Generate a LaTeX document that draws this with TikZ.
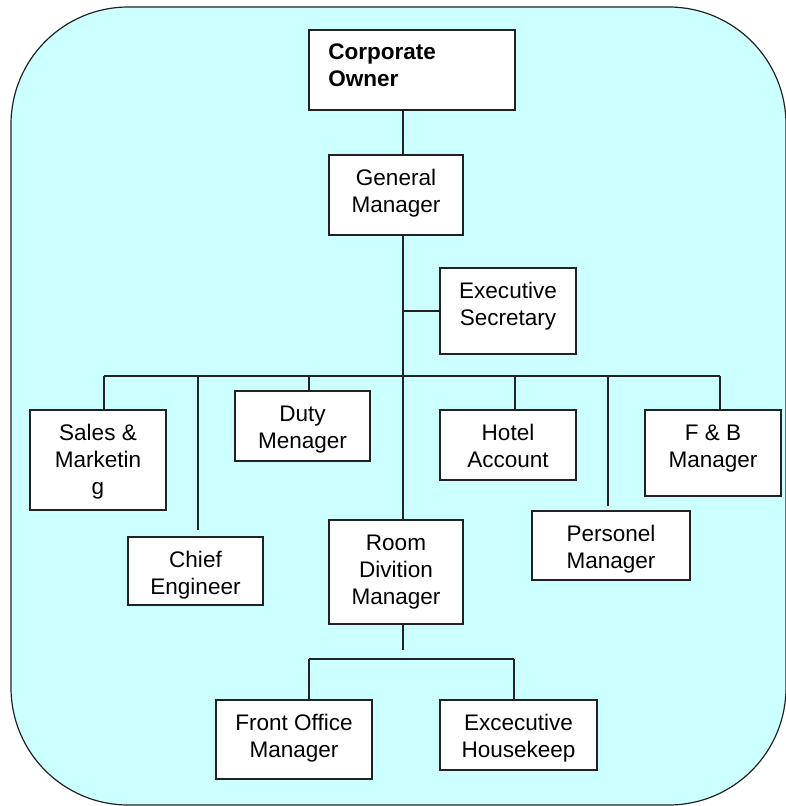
\documentclass[tikz,border=0pt]{standalone}
\usepackage{fontspec}
\setmainfont{Liberation Sans}
\definecolor{bgc}{RGB}{204,255,255}
\definecolor{linec}{RGB}{34,34,34}
% #1 name, #2 left, #3 top, #4 right, #5 bottom, #6 lines, #7 text
\newcommand\mkbox[7]{%
  \node[box, minimum width={(#4-#2)*0.75pt}, minimum height={(#5-#3)*0.75pt}] (#1) at ({(#2+#4)/2},{(#3+#5)/2}) {};
  \node[lbl] (#1t) at ({(#2+#4)/2},{#3+30+27*(#6-1)}) {#7};}
\begin{document}
\begin{tikzpicture}[x=0.75pt,y=-0.75pt,
  box/.style={draw=linec, line width=1.2pt, fill=white, rectangle, inner sep=0pt, outer sep=0pt},
  lbl/.style={font=\fontsize{16.9}{20.25}\selectfont, align=center, inner sep=0pt, anchor=base, text=black},
  conn/.style={draw=linec, line width=1.2pt}]
\useasboundingbox (0,0) rectangle (785,806);
\draw[draw=linec, line width=0.9pt, fill=bgc, rounded corners=88pt] (11,7) rectangle (786,805);
% boxes
\node[box, minimum width={206*0.75pt}, minimum height={80*0.75pt}] (co) at (412,70) {};
\node[lbl, align=left, anchor=base west, font=\fontsize{16.9}{20.25}\selectfont\bfseries] (cot) at (328,87) {Corporate\\Owner};
\mkbox{gm}{329}{155}{463}{235}{2}{General\\Manager}
\mkbox{es}{440}{268}{576}{354}{2}{Executive\\Secretary}
\mkbox{sm}{30}{410}{166}{510}{3}{Sales \&\\Marketin\\g}
\mkbox{ce}{128}{537}{263}{605}{2}{Chief\\Engineer}
\mkbox{dm}{235}{391}{370}{461}{2}{Duty\\Menager}
\mkbox{rd}{329}{520}{463}{624}{3}{Room\\Divition\\Manager}
\mkbox{ha}{440}{410}{576}{480}{2}{Hotel\\Account}
\mkbox{pm}{532}{511}{690}{580}{2}{Personel\\Manager}
\mkbox{fb}{645}{410}{781}{496}{2}{F \& B\\Manager}
\mkbox{fo}{216}{700}{372}{779}{2}{Front Office\\Manager}
\mkbox{eh}{440}{700}{597}{770}{2}{Excecutive\\Housekeep}
% helper coordinates
\coordinate (trk) at (403,376);
\coordinate (busl) at (104,376);
\coordinate (busr) at (720,376);
\coordinate (ceend) at (198,530);
\coordinate (dmx) at (309,376);
\coordinate (hax) at (515,376);
\coordinate (pmend) at (608,506);
\coordinate (rdend) at (403,650);
\coordinate (bus2l) at (309,659);
\coordinate (bus2r) at (514,659);
% connectors
\draw[conn] (co.south -| trk) -- (gm.north -| trk);
\draw[conn] (gm.south -| trk) -- (rd.north -| trk);
\draw[conn] (es.west -| trk) -- (es.west);
\draw[conn] (busl) -- (busr);
\draw[conn] (busl) -- (sm.north -| busl);
\draw[conn] (trk -| ceend) -- (ceend);
\draw[conn] (dmx) -- (dm.north -| dmx);
\draw[conn] (hax) -- (ha.north -| hax);
\draw[conn] (trk -| pmend) -- (pmend);
\draw[conn] (busr) -- (fb.north -| busr);
\draw[conn] (rd.south -| trk) -- (rdend);
\draw[conn] (bus2l) -- (bus2r);
\draw[conn] (bus2l) -- (fo.north -| bus2l);
\draw[conn] (bus2r) -- (eh.north -| bus2r);
\end{tikzpicture}
\end{document}
